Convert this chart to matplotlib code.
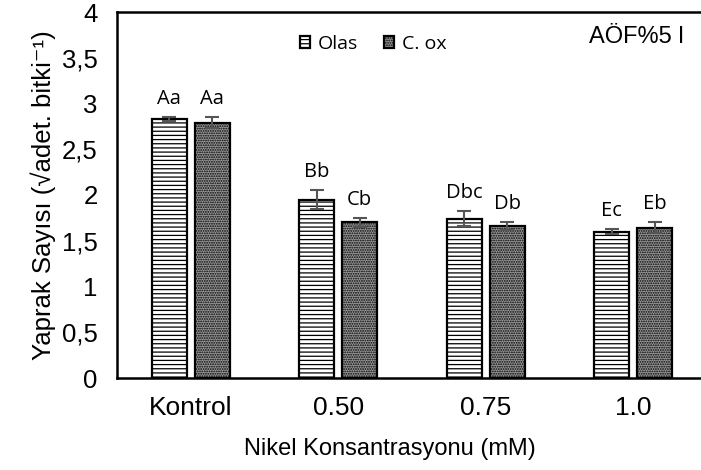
import numpy as np
import matplotlib.pyplot as plt
from matplotlib.ticker import FixedLocator, FixedFormatter

plt.rcParams['hatch.linewidth'] = 0.9

categories = ['Kontrol', '0.50', '0.75', '1.0']
olas = [2.83, 1.95, 1.74, 1.60]
olas_err = [0.02, 0.10, 0.08, 0.03]
cox = [2.79, 1.70, 1.66, 1.64]
cox_err = [0.06, 0.05, 0.04, 0.06]
olas_letters = ['Aa', 'Bb', 'Dbc', 'Ec']
cox_letters = ['Aa', 'Cb', 'Db', 'Eb']
yticks = [0, 0.5, 1, 1.5, 2, 2.5, 3, 3.5, 4]
ytick_labels = ['0', '0,5', '1', '1,5', '2', '2,5', '3', '3,5', '4']

fig = plt.figure(figsize=(7.01, 4.70), dpi=100)
ax = fig.add_axes([117 / 701, 92 / 470, 590 / 701, 366 / 470])

x = np.arange(len(categories))
w = 0.237
off = 0.145

ax.bar(x - off, olas, w, color='white', edgecolor='black', linewidth=1.6,
       hatch='----', label='Olas', zorder=2)
ax.bar(x + off, cox, w, color='#9a9a9a', edgecolor='black', linewidth=1.6,
       hatch='.......', label='C. ox', zorder=2)

ax.errorbar(x - off, olas, yerr=olas_err, fmt='none', ecolor='#555555',
            elinewidth=1.5, capsize=5, capthick=1.5, zorder=3)
ax.errorbar(x + off, cox, yerr=cox_err, fmt='none', ecolor='#555555',
            elinewidth=1.5, capsize=5, capthick=1.5, zorder=3)

for i in range(len(categories)):
    ax.text(x[i] - off, olas[i] + olas_err[i] + 0.09, olas_letters[i],
            ha='center', va='bottom', fontsize=14.5, family='Open Sans')
    ax.text(x[i] + off, cox[i] + cox_err[i] + 0.09, cox_letters[i],
            ha='center', va='bottom', fontsize=14.5, family='Open Sans')

ax.set_xlim(-0.5, 3.5)
ax.set_ylim(0, 4)
ax.set_xticks(x)
ax.set_xticklabels(categories, family='Liberation Sans', fontsize=19)
ax.yaxis.set_major_locator(FixedLocator(yticks))
ax.yaxis.set_major_formatter(FixedFormatter(ytick_labels))
for lab in ax.get_yticklabels():
    lab.set_family('Liberation Sans')
    lab.set_fontsize(18.5)
ax.tick_params(axis='x', length=0, pad=13)
ax.tick_params(axis='y', length=0, pad=14)

for s in ax.spines.values():
    s.set_linewidth(1.8)

ax.set_xlabel('Nikel Konsantrasyonu (mM)', family=['Liberation Sans', 'DejaVu Sans'],
              fontsize=17)
ax.xaxis.set_label_coords(0.463, -0.165)
ax.set_ylabel('Yaprak Sayısı (√adet. bitki⁻¹)', family=['Liberation Sans', 'DejaVu Sans'],
              fontsize=18.5, labelpad=4)

ax.legend(loc='upper left', bbox_to_anchor=(0.28, 0.985), ncol=2, frameon=False,
          prop={'family': 'Open Sans', 'size': 14}, handlelength=0.55,
          handleheight=0.55, handletextpad=0.4, columnspacing=1.3)

ax.text(0.80, 0.932, 'AÖF%5 l', transform=ax.transAxes, ha='left', va='center',
        family='Liberation Sans', fontsize=17)

fig.savefig('out.png', dpi=100)
